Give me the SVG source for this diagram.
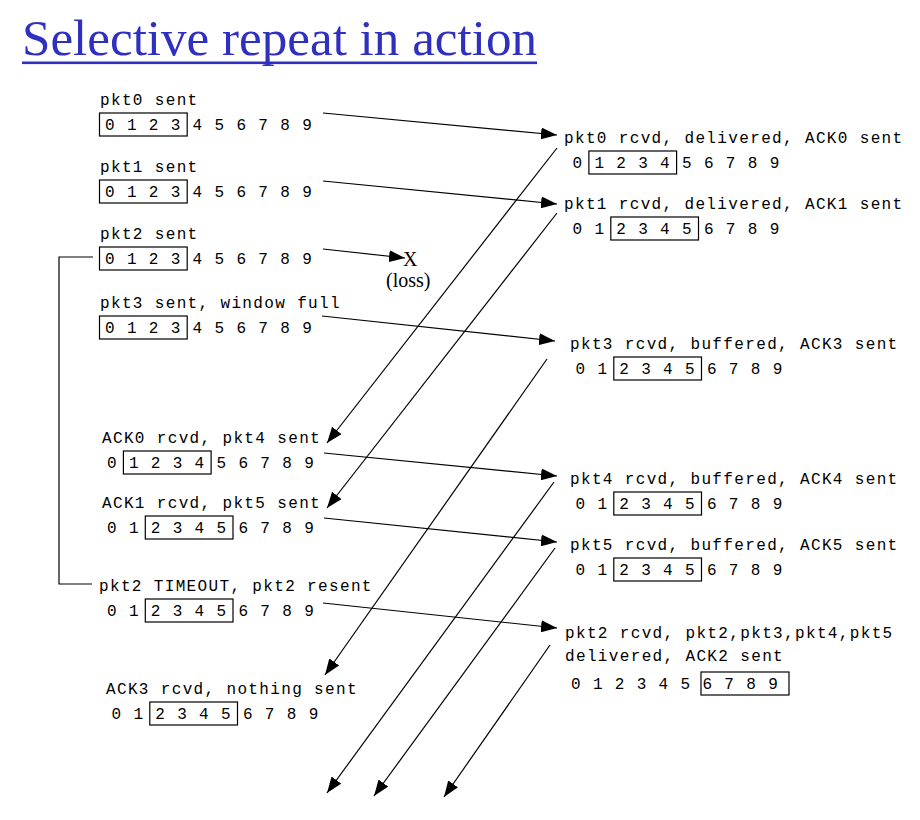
<svg xmlns="http://www.w3.org/2000/svg" width="920" height="820" viewBox="0 0 920 820">
<style>
.lbl{font-family:"Liberation Mono","DejaVu Sans Mono",monospace;font-size:16px;letter-spacing:1.35px;fill:#000}
.win{fill:none;stroke:#000;stroke-width:1.2}
.arr{fill:none;stroke:#000;stroke-width:1.2;marker-end:url(#ah)}
.serif{font-family:"Liberation Serif","Times New Roman",serif;fill:#000}
</style>
<defs>
<marker id="ah" markerUnits="userSpaceOnUse" markerWidth="16" markerHeight="12" refX="16" refY="6" orient="auto">
<path d="M0,0 L16,6 L0,12 z" fill="#000"/>
</marker>
</defs>
<rect width="920" height="820" fill="#fff"/>

<g id="title">
<text x="22" y="55" font-family="'Liberation Serif','Times New Roman',serif" font-size="51" fill="#3030c0" textLength="515" lengthAdjust="spacingAndGlyphs">Selective repeat in action</text>
<rect x="22" y="61.5" width="515" height="2.6" fill="#3030c0"/>
</g>

<!-- sender side -->
<g id="s-pkt0">
<text class="lbl" x="100" y="105">pkt0 sent</text>
<rect class="win" x="99.5" y="113" width="87.7" height="23"/>
<text class="lbl" x="105" y="130">0 1 2 3 4 5 6 7 8 9</text>
</g>
<g id="s-pkt1">
<text class="lbl" x="100" y="172">pkt1 sent</text>
<rect class="win" x="99.5" y="180" width="87.7" height="23"/>
<text class="lbl" x="105" y="197">0 1 2 3 4 5 6 7 8 9</text>
</g>
<g id="s-pkt2">
<text class="lbl" x="100" y="239">pkt2 sent</text>
<rect class="win" x="99.5" y="247" width="87.7" height="23"/>
<text class="lbl" x="105" y="264">0 1 2 3 4 5 6 7 8 9</text>
</g>
<g id="s-pkt3">
<text class="lbl" x="100" y="308">pkt3 sent, window full</text>
<rect class="win" x="99.5" y="316" width="87.7" height="23"/>
<text class="lbl" x="105" y="333">0 1 2 3 4 5 6 7 8 9</text>
</g>
<g id="s-ack0">
<text class="lbl" x="102" y="443">ACK0 rcvd, pkt4 sent</text>
<rect class="win" x="123.4" y="451" width="87.7" height="23"/>
<text class="lbl" x="107" y="468">0 1 2 3 4 5 6 7 8 9</text>
</g>
<g id="s-ack1">
<text class="lbl" x="102" y="508">ACK1 rcvd, pkt5 sent</text>
<rect class="win" x="145.3" y="516" width="87.7" height="23"/>
<text class="lbl" x="107" y="533">0 1 2 3 4 5 6 7 8 9</text>
</g>
<g id="s-timeout">
<text class="lbl" x="99" y="591">pkt2 TIMEOUT, pkt2 resent</text>
<rect class="win" x="145.3" y="599" width="87.7" height="23"/>
<text class="lbl" x="107" y="616">0 1 2 3 4 5 6 7 8 9</text>
</g>
<g id="s-ack3">
<text class="lbl" x="106" y="694">ACK3 rcvd, nothing sent</text>
<rect class="win" x="149.8" y="702" width="87.7" height="23"/>
<text class="lbl" x="111.5" y="719">0 1 2 3 4 5 6 7 8 9</text>
</g>

<!-- receiver side -->
<g id="r-pkt0">
<text class="lbl" x="564" y="143">pkt0 rcvd, delivered, ACK0 sent</text>
<rect class="win" x="588.9" y="151" width="87.7" height="23"/>
<text class="lbl" x="572.5" y="168">0 1 2 3 4 5 6 7 8 9</text>
</g>
<g id="r-pkt1">
<text class="lbl" x="564" y="209">pkt1 rcvd, delivered, ACK1 sent</text>
<rect class="win" x="610.8" y="217" width="87.7" height="23"/>
<text class="lbl" x="572.5" y="234">0 1 2 3 4 5 6 7 8 9</text>
</g>
<g id="r-pkt3">
<text class="lbl" x="570" y="349">pkt3 rcvd, buffered, ACK3 sent</text>
<rect class="win" x="613.8" y="357" width="87.7" height="23"/>
<text class="lbl" x="575.5" y="374">0 1 2 3 4 5 6 7 8 9</text>
</g>
<g id="r-pkt4">
<text class="lbl" x="570" y="484">pkt4 rcvd, buffered, ACK4 sent</text>
<rect class="win" x="613.8" y="492" width="87.7" height="23"/>
<text class="lbl" x="575.5" y="509">0 1 2 3 4 5 6 7 8 9</text>
</g>
<g id="r-pkt5">
<text class="lbl" x="570" y="550">pkt5 rcvd, buffered, ACK5 sent</text>
<rect class="win" x="613.8" y="558" width="87.7" height="23"/>
<text class="lbl" x="575.5" y="575">0 1 2 3 4 5 6 7 8 9</text>
</g>
<g id="r-pkt2">
<text class="lbl" x="565" y="638">pkt2 rcvd, pkt2,pkt3,pkt4,pkt5</text>
<text class="lbl" x="565" y="661">delivered, ACK2 sent</text>
<rect class="win" x="701" y="672" width="88" height="23"/>
<text class="lbl" x="571" y="689">0 1 2 3 4 5 6 7 8 9</text>
</g>

<g id="loss">
<text class="serif" x="403" y="266" font-size="20">X</text>
<text class="serif" x="386" y="287" font-size="20">(loss)</text>
</g>

<g id="connectors">
<path d="M93,257 H59 V584 H92" fill="none" stroke="#000" stroke-width="1.2"/>
<line class="arr" x1="323" y1="113" x2="557" y2="135"/>
<line class="arr" x1="323" y1="181" x2="557" y2="204"/>
<line class="arr" x1="323" y1="249" x2="405" y2="258"/>
<line class="arr" x1="322" y1="316" x2="555" y2="341"/>
<line class="arr" x1="324" y1="453" x2="557" y2="476"/>
<line class="arr" x1="324" y1="518" x2="557" y2="542"/>
<line class="arr" x1="323" y1="603" x2="557" y2="628"/>
<line class="arr" x1="557" y1="148" x2="327" y2="443"/>
<line class="arr" x1="557" y1="213" x2="327" y2="508"/>
<line class="arr" x1="547" y1="359" x2="325" y2="675"/>
<line class="arr" x1="554" y1="482" x2="327" y2="793"/>
<line class="arr" x1="555" y1="548" x2="374" y2="796"/>
<line class="arr" x1="550" y1="645" x2="444" y2="797"/>
</g>
</svg>
